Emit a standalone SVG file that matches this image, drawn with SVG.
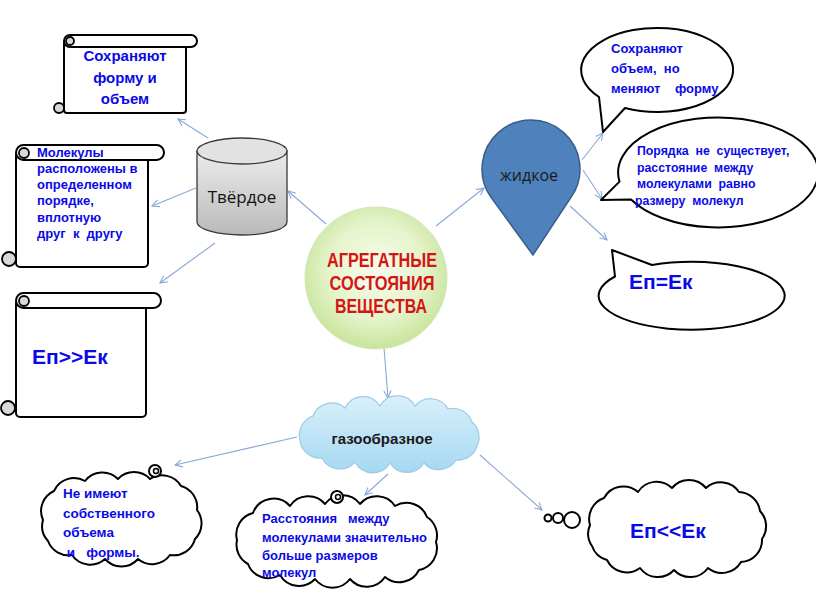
<svg xmlns="http://www.w3.org/2000/svg" width="816" height="613" viewBox="0 0 816 613">
<defs>
<style>
text{white-space:pre}
.ln{stroke:#000;stroke-width:2;fill:#fff;stroke-linejoin:round}
.curl{stroke:#000;stroke-width:1.8;fill:#d9d9d9}
.bt{font-family:"Liberation Sans",Arial,sans-serif;font-weight:bold;fill:#0a0ae6}
.con{stroke:#8aa8d6;stroke-width:1.1;fill:none;marker-end:url(#ah)}
.title{font-family:"Liberation Sans",Arial,sans-serif;font-weight:bold;fill:#d41515;font-size:20px;text-anchor:middle}
</style>
<marker id="ah" viewBox="0 0 10 10" refX="9" refY="5" markerWidth="9" markerHeight="9" markerUnits="userSpaceOnUse" orient="auto">
<path d="M1,1 L9,5 L1,9" fill="none" stroke="#8aa8d6" stroke-width="1.2"/>
</marker>
<radialGradient id="gCircle" cx="50%" cy="45%" r="55%">
<stop offset="0" stop-color="#f7fcec"/>
<stop offset="0.6" stop-color="#e6f4cc"/>
<stop offset="1" stop-color="#c8e49c"/>
</radialGradient>
<linearGradient id="gCyl" x1="0" y1="0" x2="0" y2="1">
<stop offset="0" stop-color="#ececec"/>
<stop offset="1" stop-color="#b9b9b9"/>
</linearGradient>
<linearGradient id="gGas" x1="0" y1="0" x2="0" y2="1">
<stop offset="0" stop-color="#d9f0fb"/>
<stop offset="1" stop-color="#a6d8f2"/>
</linearGradient>
</defs>
<rect width="816" height="613" fill="#fff"/>

<g id="connectors">
<line class="con" x1="326" y1="224" x2="288" y2="191"/>
<line class="con" x1="208" y1="138" x2="178" y2="119"/>
<line class="con" x1="196" y1="188" x2="152" y2="206"/>
<line class="con" x1="215" y1="243" x2="160" y2="283"/>
<line class="con" x1="436" y1="226" x2="484" y2="188"/>
<line class="con" x1="582" y1="160" x2="603" y2="133"/>
<line class="con" x1="583" y1="170" x2="602" y2="199"/>
<line class="con" x1="570" y1="206" x2="607" y2="240"/>
<line class="con" x1="384" y1="348" x2="388" y2="398"/>
<line class="con" x1="297" y1="437" x2="175" y2="465"/>
<line class="con" x1="388" y1="474" x2="365" y2="495"/>
<line class="con" x1="480" y1="455" x2="542" y2="510"/>
</g>

<g id="scroll1">
<rect class="ln" x="64" y="41" width="122" height="72" rx="3"/>
<rect class="ln" x="64" y="35" width="133" height="12" rx="6"/>
<circle class="curl" cx="70" cy="41" r="4"/>
<circle class="curl" cx="59" cy="108" r="5"/>
<text class="bt" font-size="15" text-anchor="middle"><tspan x="125" y="61">Сохраняют</tspan><tspan x="125" y="83">форму и</tspan><tspan x="125" y="104">объем</tspan></text>
</g>

<g id="scroll2">
<rect class="ln" x="16" y="152" width="132" height="115" rx="4"/>
<rect class="ln" x="16" y="145" width="148" height="15" rx="7.5"/>
<circle class="curl" cx="24" cy="153" r="5"/>
<circle class="curl" cx="9" cy="259" r="7"/>
<text class="bt" font-size="13"><tspan x="37" y="157">Молекулы</tspan><tspan x="37" y="173">расположены в</tspan><tspan x="37" y="189">определенном</tspan><tspan x="37" y="205">порядке,</tspan><tspan x="37" y="222">вплотную</tspan><tspan x="37" y="238">друг  к  другу</tspan></text>
</g>

<g id="scroll3">
<rect class="ln" x="16" y="300" width="130" height="117" rx="4"/>
<rect class="ln" x="16" y="293" width="145" height="15" rx="7.5"/>
<circle class="curl" cx="24" cy="301" r="5"/>
<circle class="curl" cx="8" cy="408" r="7"/>
<text class="bt" font-size="21" x="32" y="364">Еп&gt;&gt;Ек</text>
</g>

<g id="solid">
<path d="M197,151 L197,222 A45,13 0 0 0 287,222 L287,151 Z" fill="url(#gCyl)" stroke="#3a3a3a" stroke-width="1.3"/>
<ellipse cx="242" cy="151" rx="45" ry="13" fill="#e2e2e2" stroke="#3a3a3a" stroke-width="1.3"/>
<text x="242" y="203" font-family="'Open Sans','Noto Sans',sans-serif" font-size="17" fill="#111" text-anchor="middle">Твёрдое</text>
</g>

<g id="center">
<circle cx="376" cy="278" r="71" fill="url(#gCircle)" stroke="#d3e8b4" stroke-width="1"/>
<text class="title" x="382" y="267" textLength="110" lengthAdjust="spacingAndGlyphs">АГРЕГАТНЫЕ</text>
<text class="title" x="382" y="290" textLength="105" lengthAdjust="spacingAndGlyphs">СОСТОЯНИЯ</text>
<text class="title" x="381" y="313" textLength="92" lengthAdjust="spacingAndGlyphs">ВЕЩЕСТВА</text>
</g>

<g id="liquid">
<path d="M533,255 L490.7,196.9 A49,49 0 1 1 571.3,196.9 Z" fill="#4f81bd" stroke="#385d8a" stroke-width="1.5"/>
<text x="529" y="181" font-family="'Open Sans','Noto Sans',sans-serif" font-size="16" fill="#1a1a1a" text-anchor="middle">жидкое</text>
</g>

<g id="bubble1">
<path class="ln" d="M625,108 L603,132 L599,97 A76,42 0 1 1 625,108 Z"/>
<text class="bt" font-size="13"><tspan x="611" y="53">Сохраняют</tspan><tspan x="611" y="73">объем,  но</tspan><tspan x="611" y="93">меняют    форму</tspan></text>
</g>

<g id="bubble2">
<path class="ln" d="M631,199.5 L601,200 L619.5,181.6 A100,55 0 1 1 631,199.5 Z"/>
<text class="bt" font-size="12.3"><tspan x="637" y="155">Порядка  не  существует,</tspan><tspan x="637" y="172">расстояние  между</tspan><tspan x="637" y="188">молекулами  равно</tspan><tspan x="635" y="205">размеру  молекул</tspan></text>
</g>

<g id="bubble3">
<path class="ln" d="M615,276.5 L612,250 L652,265 A93,34 0 1 1 615,276.5 Z"/>
<text class="bt" font-size="21" x="629" y="289">Еп=Ек</text>
</g>

<g id="gas">
<path d="M300,440 A20,20 0 0 1 313,416 A20,20 0 0 1 345,408 A20,20 0 0 1 380,406 A20,20 0 0 1 415,406 A20,20 0 0 1 448,409 A20,20 0 0 1 472,422 A20,20 0 0 1 477,446 A20,20 0 0 1 456,460 A20,20 0 0 1 424,463 A20,20 0 0 1 390,463 A20,20 0 0 1 355,462 A20,20 0 0 1 322,458 A20,20 0 0 1 300,440 Z" fill="url(#gGas)" stroke="#9ccbe6" stroke-width="1.2"/>
<text x="382" y="444" font-family="'Liberation Sans',Arial,sans-serif" font-weight="bold" font-size="15" fill="#1a1a1a" text-anchor="middle">газообразное</text>
</g>

<g id="cloud1">
<path class="ln" d="M43,520 A22,22 0 0 1 54,491 A22,22 0 0 1 85,481 A22,22 0 0 1 118,479 A22,22 0 0 1 150,479 A22,22 0 0 1 181,486 A22,22 0 0 1 197,510 A22,22 0 0 1 195,539 A22,22 0 0 1 170,555 A22,22 0 0 1 138,559 A22,22 0 0 1 105,559 A22,22 0 0 1 72,555 A22,22 0 0 1 48,541 A22,22 0 0 1 43,520 Z"/>
<circle class="ln" cx="155" cy="471" r="6"/>
<circle cx="156" cy="471" r="2.5" fill="none" stroke="#000" stroke-width="1.5"/>
<text class="bt" font-size="13.5"><tspan x="63" y="498">Не имеют</tspan><tspan x="63" y="518">собственного</tspan><tspan x="63" y="537">объема</tspan><tspan x="63" y="557"> и   формы.</tspan></text>
</g>

<g id="cloud2">
<path class="ln" d="M237,540 A22,22 0 0 1 253,513 A22,22 0 0 1 290,506 A22,22 0 0 1 325,504 A22,22 0 0 1 360,504 A22,22 0 0 1 395,506 A22,22 0 0 1 427,517 A22,22 0 0 1 436,542 A22,22 0 0 1 419,570 A22,22 0 0 1 385,577 A22,22 0 0 1 350,579 A22,22 0 0 1 315,579 A22,22 0 0 1 280,575 A22,22 0 0 1 248,564 A22,22 0 0 1 237,540 Z"/>
<circle class="ln" cx="337" cy="497" r="6"/>
<circle cx="338" cy="497" r="2.5" fill="none" stroke="#000" stroke-width="1.5"/>
<text class="bt" font-size="13"><tspan x="262" y="523">Расстояния   между</tspan><tspan x="262" y="542">молекулами значительно</tspan><tspan x="262" y="560">больше размеров</tspan><tspan x="262" y="577">молекул</tspan></text>
</g>

<g id="cloud3">
<path class="ln" d="M590,525 A22,22 0 0 1 604,498 A22,22 0 0 1 638,492 A22,22 0 0 1 672,488 A22,22 0 0 1 706,488 A22,22 0 0 1 739,492 A22,22 0 0 1 760,511 A22,22 0 0 1 762,539 A22,22 0 0 1 741,562 A22,22 0 0 1 708,568 A22,22 0 0 1 674,570 A22,22 0 0 1 640,568 A22,22 0 0 1 607,560 A22,22 0 0 1 592,546 A22,22 0 0 1 590,525 Z"/>
<circle class="ln" cx="548" cy="518" r="3.5"/>
<circle class="ln" cx="558" cy="518" r="5"/>
<circle class="ln" cx="572" cy="520" r="8"/>
<text class="bt" font-size="21" x="630" y="538">Еп&lt;&lt;Ек</text>
</g>
</svg>
